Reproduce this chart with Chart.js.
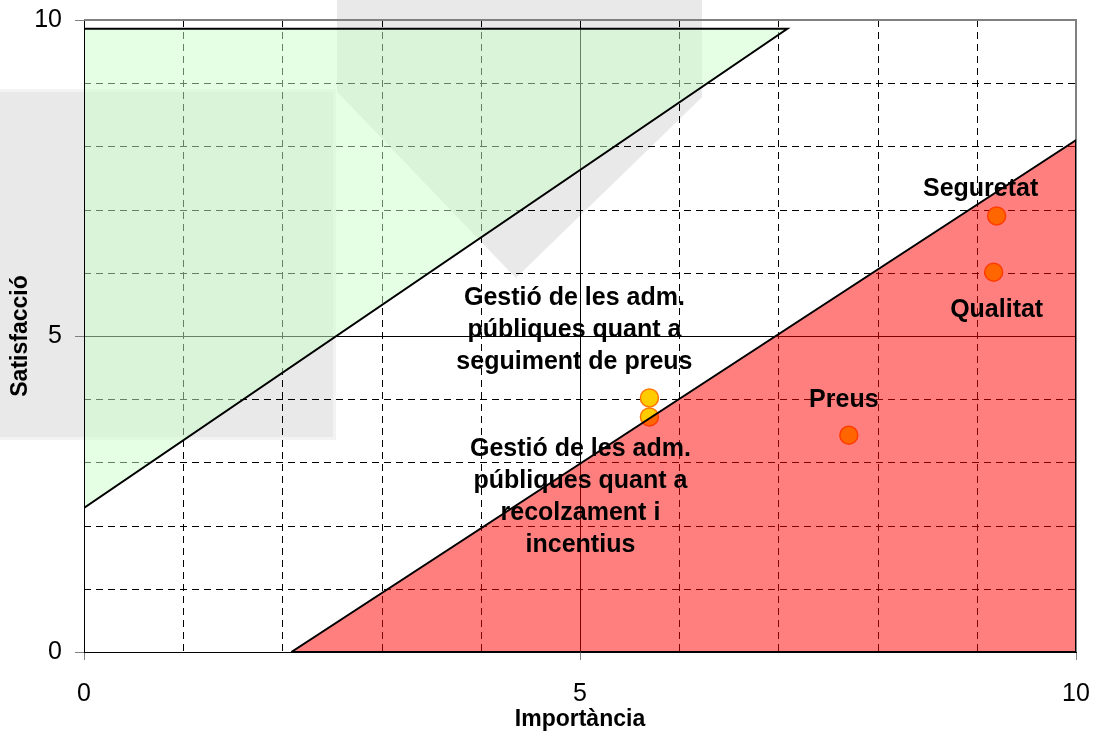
<!DOCTYPE html>
<html lang="ca">
  <head>
    <meta charset="UTF-8" />
    <title>Importància / Satisfacció</title>
    <style>
      body { margin: 0; background: #fff; }
      #wrap { position: relative; width: 1097px; height: 733px; overflow: hidden; }
      .mark { position: absolute; background: #e9e9e9; }
      #mark1 { left: 0; top: 92px; width: 333px; height: 345px; box-shadow: 0 0 0 3px #f3f3f3; }
      #mark2 { left: 337px; top: 0; width: 365px; height: 278px;
               clip-path: polygon(0 0, 100% 0, 100% 35%, 49% 100%, 0 33%); }
      canvas { position: absolute; left: 0; top: 0; }
    </style>
  </head>
  <body>
    <div id="wrap">
      <div class="mark" id="mark1"></div>
      <div class="mark" id="mark2"></div>
      <canvas id="myChart" width="1097" height="733"></canvas>
    </div>
    <script src="https://cdn.jsdelivr.net/npm/chart.js@4.4.1/dist/chart.umd.min.js"></script>
    <script>
      // values
      const categories = [
        ["Seguretat"],
        ["Qualitat"],
        ["Preus"],
        ["Gestió de les adm.", "públiques quant a", "seguiment de preus"],
        ["Gestió de les adm.", "públiques quant a", "recolzament i", "incentius"],
      ];
      const importancia = [9.2, 9.17, 7.71, 5.7, 5.7];
      const satisfaccio = [6.9, 6.01, 3.43, 4.02, 3.72];

      // zones
      const greenZoneX = [0, 0, 7.09, 0];
      const greenZoneY = [2.28, 9.86, 9.86, 2.28];
      const redZoneX = [2.09, 10, 10, 2.09];
      const redZoneY = [0, 0, 8.1, 0];

      const axisTicks = [0, 5, 10];

      // label placement relative to its point (px)
      const labelOffsets = [[-16, -27], [3, 38], [-5, -35], [-75, -68], [-69, 80]];

      const pts = importancia.map((v, i) => ({ x: v, y: satisfaccio[i] }));
      const zone = (xs, ys) => xs.map((v, i) => ({ x: v, y: ys[i] }));

      const gridPlugin = {
        id: "grid",
        beforeDatasetsDraw(chart) {
          const { ctx, chartArea: a, scales } = chart;
          ctx.save();
          ctx.lineWidth = 1;
          ctx.strokeStyle = "#000";
          scales.x.ticks.forEach((t) => {
            if (t.value <= 0 || t.value >= 10) return;
            const px = Math.round(scales.x.getPixelForValue(t.value)) + 0.5;
            ctx.setLineDash(t.value === 5 ? [] : [7, 5]);
            ctx.beginPath();
            ctx.moveTo(px, a.top);
            ctx.lineTo(px, a.bottom);
            ctx.stroke();
          });
          scales.y.ticks.forEach((t) => {
            if (t.value <= 0 || t.value >= 10) return;
            const py = Math.round(scales.y.getPixelForValue(t.value)) + 0.5;
            ctx.setLineDash(t.value === 5 ? [] : [7, 5]);
            ctx.beginPath();
            ctx.moveTo(a.left, py);
            ctx.lineTo(a.right, py);
            ctx.stroke();
          });
          ctx.setLineDash([]);
          ctx.strokeStyle = "#808080";
          ctx.lineWidth = 2;
          ctx.beginPath();
          ctx.moveTo(a.left, a.top);
          ctx.lineTo(a.right, a.top);
          ctx.lineTo(a.right, a.bottom);
          ctx.stroke();
          ctx.restore();
        },
      };

      const labelPlugin = {
        id: "pointLabels",
        afterDatasetsDraw(chart) {
          const { ctx } = chart;
          const meta = chart.getDatasetMeta(0);
          ctx.save();
          ctx.font = "bold 25px 'Liberation Sans', Arial, sans-serif";
          ctx.fillStyle = "#000";
          ctx.textAlign = "center";
          ctx.textBaseline = "middle";
          const lh = 32;
          meta.data.forEach((p, i) => {
            const lines = categories[i];
            const cx = p.x + labelOffsets[i][0];
            const cy = p.y + labelOffsets[i][1];
            const y0 = cy - ((lines.length - 1) * lh) / 2;
            lines.forEach((s, j) => ctx.fillText(s, cx, y0 + j * lh));
          });
          ctx.restore();
        },
      };

      const tickFont = { family: "'Liberation Sans', Arial, sans-serif", size: 25 };
      const titleFont = { family: "'Liberation Sans', Arial, sans-serif", size: 23, weight: "bold" };

      new Chart("myChart", {
        type: "scatter",
        data: {
          datasets: [
            {
              data: pts,
              order: 3,
              pointRadius: 9,
              pointBackgroundColor: "#FFCC00",
              pointBorderColor: "#FF7700",
              pointBorderWidth: 1.5,
            },
            {
              data: zone(greenZoneX, greenZoneY),
              order: 2,
              showLine: true,
              fill: "shape",
              backgroundColor: "rgba(204,255,204,0.5)",
              borderColor: "#000",
              borderWidth: 2,
              pointRadius: 0,
              tension: 0,
            },
            {
              data: zone(redZoneX, redZoneY),
              order: 1,
              showLine: true,
              fill: "shape",
              backgroundColor: "rgba(255,0,0,0.5)",
              borderColor: "#000",
              borderWidth: 2,
              pointRadius: 0,
              tension: 0,
            },
          ],
        },
        options: {
          responsive: false,
          animation: false,
          layout: { padding: { top: 20, right: 21, left: 0, bottom: 0 } },
          plugins: { legend: { display: false }, tooltip: { enabled: false } },
          scales: {
            x: {
              type: "linear",
              min: 0,
              max: 10,
              afterFit: (s) => { s.height = 81; s.paddingLeft = 0; s.paddingRight = 0; },
              ticks: {
                stepSize: 1,
                autoSkip: false,
                maxRotation: 0,
                padding: 19,
                color: "#000",
                font: tickFont,
                callback: (v) => (axisTicks.includes(v) ? v : ""),
              },
              grid: {
                drawOnChartArea: false,
                tickLength: 8,
                tickColor: (c) => (c.tick && axisTicks.includes(c.tick.value) ? "#808080" : "rgba(0,0,0,0)"),
              },
              border: { color: "#000", width: 1 },
              title: { display: true, text: "Importància", color: "#000", font: titleFont, padding: { top: 0, bottom: 0 } },
            },
            y: {
              type: "linear",
              min: 0,
              max: 10,
              afterFit: (s) => { s.width = 84; s.paddingTop = 0; s.paddingBottom = 0; },
              ticks: {
                stepSize: 1,
                autoSkip: false,
                padding: 13,
                color: "#000",
                font: tickFont,
                callback: (v) => (axisTicks.includes(v) ? v : ""),
              },
              grid: {
                drawOnChartArea: false,
                tickLength: 9,
                tickColor: (c) => (c.tick && axisTicks.includes(c.tick.value) ? "#808080" : "rgba(0,0,0,0)"),
              },
              border: { color: "#000", width: 1 },
              title: { display: true, text: "Satisfacció", color: "#000", font: titleFont, padding: { top: 7, bottom: 0 } },
            },
          },
        },
        plugins: [gridPlugin, labelPlugin],
      });
    </script>
  </body>
</html>
